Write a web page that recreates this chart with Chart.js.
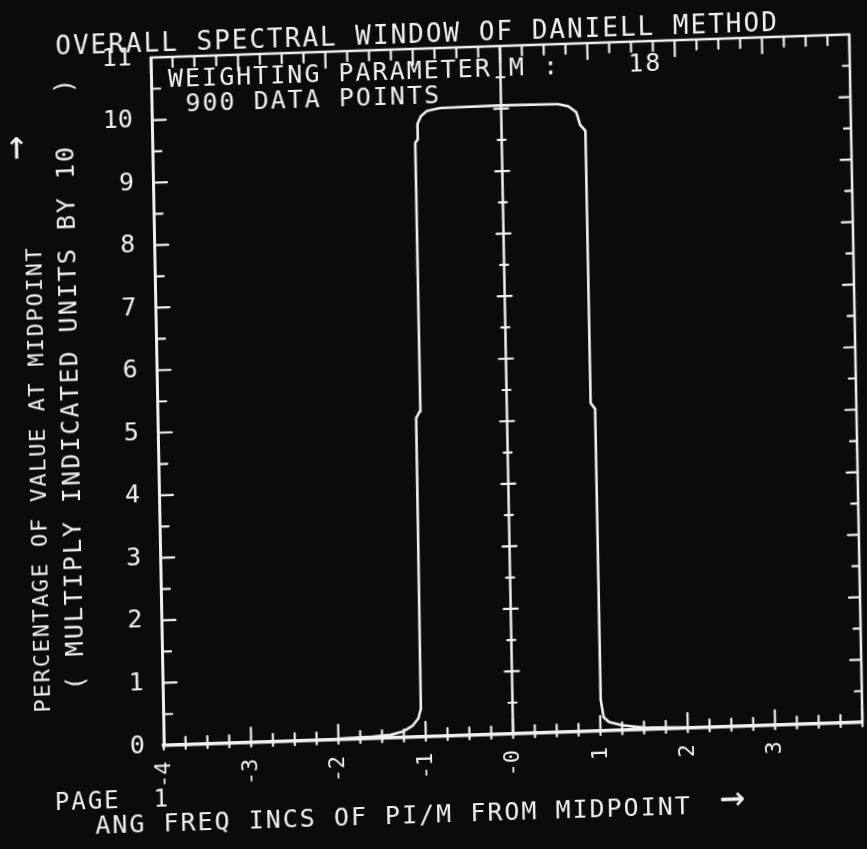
<!DOCTYPE html>
<html lang="en">
<head>
    <meta charset="UTF-8">
    <title>Overall Spectral Window of Daniell Method</title>
    <script src="https://cdn.jsdelivr.net/npm/chart.js"></script>
    <style>
        html, body { margin: 0; padding: 0; background: #0b0b0b; overflow: hidden; }
        #chartBox { position: relative; width: 867px; height: 849px; }
        /* the photo of the scope screen is slightly tilted */
        #windowChart {
            position: absolute; left: 0; top: 0;
            transform-origin: 506.5px 390px;
            transform: rotate(-1.9deg) skewX(-0.8deg);
        }
    </style>
</head>
<body>
    <div id="chartBox">
        <canvas id="windowChart" width="867" height="849"></canvas>
    </div>
    <script>
        // Spectral window (x in increments of PI/M, y in units of 10 %)
        const freqX = [-4.0, -3.0, -2.0, -1.6, -1.4, -1.25, -1.15, -1.08, -1.05, -1.04, -1.0, -0.99, -0.96, -0.96, -0.92, -0.85, -0.7, 0.0,
                       0.65, 0.77, 0.86, 0.9, 0.96, 0.96, 1.01, 1.01, 1.04, 1.1, 1.25, 1.5, 2.0, 3.0, 4.0];
        const pctY  = [0.0, 0.01, 0.015, 0.03, 0.05, 0.1, 0.18, 0.3, 0.45, 5.1, 5.2, 9.5, 9.55, 9.8, 9.92, 10.0, 10.04, 10.05,
                       10.04, 10.0, 9.9, 9.7, 9.6, 5.25, 5.15, 0.5, 0.22, 0.14, 0.08, 0.03, 0.01, 0.0, 0.0];

        const xTickValues = [-4, -3, -2, -1, 0, 1, 2, 3];
        const xTickLabels = ["-4", "-3", "-2", "-1", "-0", "1", "2", "3"];
        const yTickValues = [0, 1, 2, 3, 4, 5, 6, 7, 8, 9, 10, 11];

        const chartTitle = "OVERALL SPECTRAL WINDOW OF DANIELL METHOD";
        const noteLines = ["WEIGHTING PARAMETER M :    18", "900 DATA POINTS"];
        const pageText = "PAGE  1";
        const xTitle = "ANG FREQ INCS OF PI/M FROM MIDPOINT";
        const yTitle = ["PERCENTAGE OF VALUE AT MIDPOINT", "( MULTIPLY INDICATED UNITS BY 10   )"];

        const INK = "#f0f0f0";
        const MONO = '"DejaVu Sans Mono", monospace';

        // inward tick marks, frame and the midpoint line
        const frameTicks = {
            id: "frameTicks",
            beforeDatasetsDraw(chart) {
                const { ctx, chartArea: a, scales: { x, y } } = chart;
                ctx.save();
                ctx.strokeStyle = INK;
                ctx.lineCap = "round";

                // top and right border
                ctx.lineWidth = 2.5;
                ctx.beginPath();
                ctx.moveTo(a.left, a.top);
                ctx.lineTo(a.right, a.top);
                ctx.lineTo(a.right, a.bottom);
                ctx.stroke();

                ctx.lineWidth = 2.2;
                for (let v = -4; v <= 4.001; v += 0.25) {
                    const px = x.getPixelForValue(v);
                    const major = Math.abs(v - Math.round(v)) < 0.01;
                    ctx.beginPath();
                    ctx.moveTo(px, a.bottom + 4);
                    ctx.lineTo(px, a.bottom - (major ? 15 : 8));
                    ctx.moveTo(px, a.top);
                    ctx.lineTo(px, a.top + (major ? 16 : 10));
                    ctx.stroke();
                }
                const mx = x.getPixelForValue(0);
                for (let v = 0; v <= 11.001; v += 0.5) {
                    const py = y.getPixelForValue(v);
                    const major = Math.abs(v - Math.round(v)) < 0.01;
                    ctx.beginPath();
                    ctx.moveTo(a.left, py);
                    ctx.lineTo(a.left + (major ? 14 : 9), py);
                    ctx.moveTo(a.right, py);
                    ctx.lineTo(a.right - (major ? 11 : 7), py);
                    // crossings on the midpoint line
                    const h = major ? 7 : 4;
                    ctx.moveTo(mx - h, py);
                    ctx.lineTo(mx + h, py);
                    ctx.stroke();
                }

                // midpoint line
                ctx.lineWidth = 2.5;
                ctx.beginPath();
                ctx.moveTo(mx, a.bottom);
                ctx.lineTo(mx, a.top);
                ctx.stroke();
                ctx.restore();
            },
            afterDraw(chart) {
                const { ctx } = chart;
                ctx.save();
                ctx.fillStyle = INK;
                ctx.textBaseline = "alphabetic";
                ctx.textAlign = "left";

                ctx.font = "26px " + MONO;
                ctx.letterSpacing = "2px";
                ctx.fillText(chartTitle, 62, 40);

                ctx.font = "25px " + MONO;
                ctx.fillText(noteLines[0], 174, 76);
                ctx.fillText(noteLines[1], 191, 101);

                ctx.font = "24px " + MONO;
                ctx.fillText(pageText, 47, 795);

                ctx.font = "25px " + MONO;
                ctx.fillText(xTitle, 87, 820);
                ctx.letterSpacing = "0px";
                ctx.font = "42px " + MONO;
                ctx.fillText("\u2192", 712, 818);

                // vertical axis title, two lines read bottom to top
                ctx.save();
                ctx.translate(44, 697);
                ctx.rotate(-Math.PI / 2);
                ctx.font = "22px " + MONO;
                ctx.letterSpacing = "1.8px";
                ctx.fillText(yTitle[0], 0, 0);
                ctx.restore();

                ctx.save();
                ctx.translate(22, 132);
                ctx.rotate(-Math.PI / 2);
                ctx.font = "40px " + MONO;
                ctx.textAlign = "center";
                ctx.textBaseline = "middle";
                ctx.fillText("\u2192", 0, 0);
                ctx.restore();

                ctx.save();
                ctx.translate(78, 676);
                ctx.rotate(-Math.PI / 2);
                ctx.font = "25px " + MONO;
                ctx.letterSpacing = "2px";
                ctx.fillText(yTitle[1], 0, 0);
                ctx.restore();

                ctx.restore();
            }
        };

        function initializeChart() {
            const ctx = document.getElementById("windowChart").getContext("2d");
            const points = freqX.map((fx, i) => ({ x: fx, y: pctY[i] }));

            new Chart(ctx, {
                type: "line",
                data: {
                    datasets: [{
                        label: "Spectral window",
                        data: points,
                        borderColor: INK,
                        borderWidth: 2.6,
                        pointRadius: 0,
                        tension: 0,
                        borderJoinStyle: "round",
                        fill: false,
                    }],
                },
                options: {
                    responsive: false,
                    animation: false,
                    devicePixelRatio: 1,
                    layout: { padding: { top: 46, right: 11, left: 0, bottom: 0 } },
                    plugins: {
                        legend: { display: false },
                        tooltip: { enabled: false },
                        title: { display: false },
                    },
                    scales: {
                        x: {
                            type: "linear",
                            min: -4,
                            max: 4,
                            afterBuildTicks: (scale) => { scale.ticks = xTickValues.map(v => ({ value: v })); },
                            afterFit: (scale) => { scale.height = 115; },
                            grid: { display: false },
                            border: { display: true, color: INK, width: 3.4 },
                            ticks: {
                                color: INK,
                                font: { family: MONO, size: 22 },
                                minRotation: 90,
                                maxRotation: 90,
                                padding: 8,
                                callback: (value, index) => xTickLabels[index],
                            },
                        },
                        y: {
                            min: 0,
                            max: 11,
                            afterBuildTicks: (scale) => { scale.ticks = yTickValues.map(v => ({ value: v })); },
                            afterFit: (scale) => { scale.width = 157; },
                            grid: { display: false },
                            border: { display: true, color: INK, width: 3 },
                            ticks: {
                                color: INK,
                                font: { family: MONO, size: 25 },
                                padding: 11,
                            },
                        },
                    },
                },
                plugins: [frameTicks],
            });
        }

        initializeChart();
    </script>
</body>
</html>
